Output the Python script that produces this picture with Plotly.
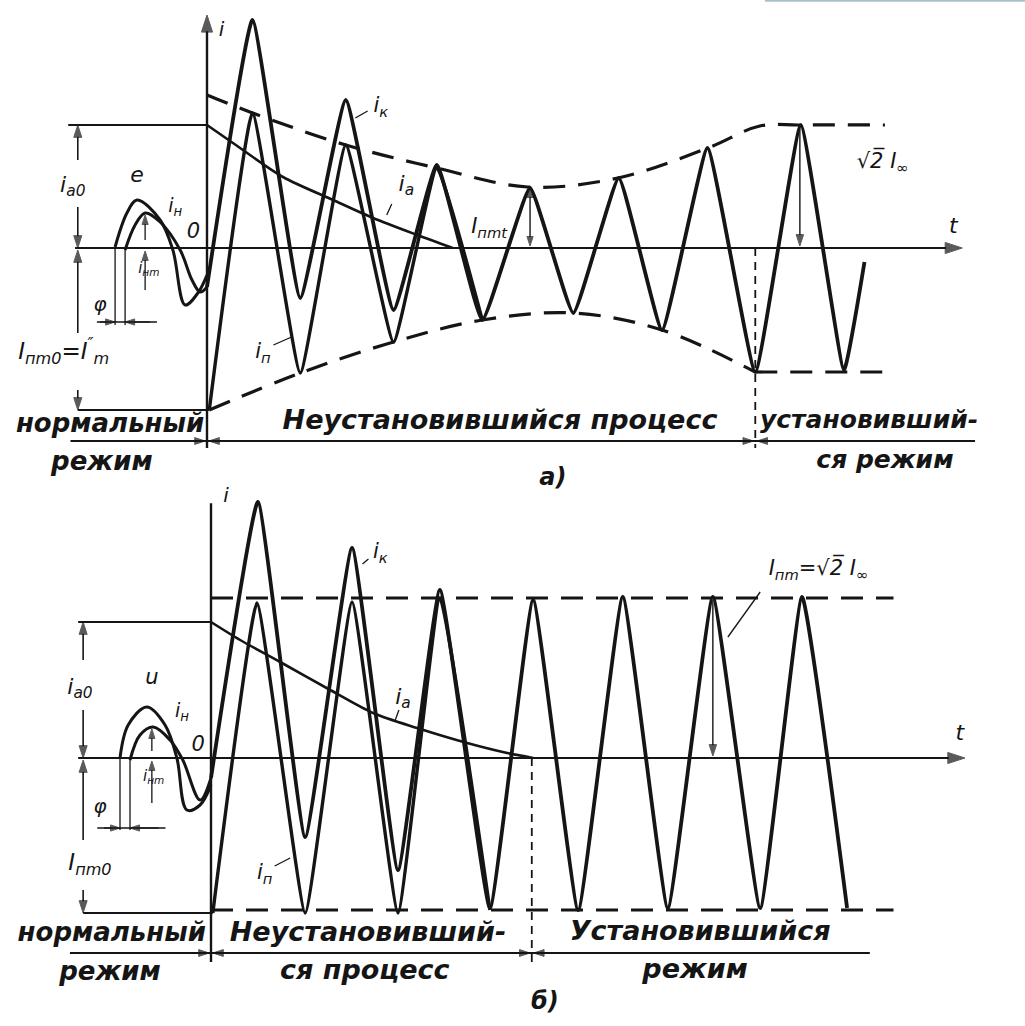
import plotly.graph_objects as go

# ===================== DATA  (t in ms at 50 Hz, i in relative units) =====================
# ---- panel a) ----
A_IK_T = [0, 10, 20.5, 30.5, 41, 50.5, 60.5, 71, 80.5, 90.5, 100, 110, 120.5, 130.5, 140, 144.5]
A_IK   = [-0.39, 2.28, -0.50, 1.48, -0.62, 0.83, -0.72, 0.60, -0.65, 0.70, -0.82, 1.00, -1.24, 1.23, -1.22, -0.14]
A_IP_T = [0.5, 10, 20.5, 30.5, 41, 50.5, 60.5]
A_IP   = [-1.62, 1.35, -1.25, 1.03, -0.94, 0.80, -0.72]
A_IA_T = [0, 5.7, 16.7, 27.7, 36.5, 46.2, 54]
A_IA   = [1.23, 1.05, 0.71, 0.48, 0.30, 0.13, 0.0]
A_UP_T = [0, 10, 30.5, 50.5, 70.5, 90.3, 110.1, 121.5, 130.3, 149]
A_UP   = [1.53, 1.35, 1.03, 0.80, 0.61, 0.70, 1.00, 1.22, 1.23, 1.23]
A_LO_T = [0.5, 20.5, 41, 60.5, 80.5, 100, 120.5, 151]
A_LO   = [-1.62, -1.25, -0.94, -0.72, -0.65, -0.82, -1.24, -1.24]
A_E_T  = [-20.2, -17.6, -15.4, -10.3, -7.5, -4.8, -2.0, 0]
A_E    = [0.01, 0.35, 0.48, 0.28, -0.02, -0.57, -0.45, -0.27]
A_IN_T = [-18, -15.8, -13.6, -10.3, -5.9, -3.3, -1.5, 0]
A_IN   = [-0.02, 0.23, 0.35, 0.26, -0.02, -0.32, -0.44, -0.39]
A_IA0, A_IPM0, A_SQ2IINF, A_T_STEADY = 1.23, -1.62, 1.23, 120.5
A_IPMT_T, A_IPMT = 71, 0.60

# ---- panel б) ----
B_IK_T = [0, 10.3, 20.7, 31, 41.1, 50.3, 61.3, 70.8, 80.7, 90.5, 100.4, 110.3, 120.7, 129.9, 139.8]
B_IK   = [-0.20, 2.56, -0.79, 2.10, -1.12, 1.68, -1.50, 1.58, -1.52, 1.61, -1.50, 1.61, -1.50, 1.61, -1.50]
B_IP_T = [0.4, 10.1, 20.7, 31, 41.1, 50.3, 61.3]
B_IP   = [-1.55, 1.55, -1.55, 1.56, -1.55, 1.60, -1.52]
B_IA_T = [0, 6.4, 15.2, 26.2, 35.6, 45.3, 56.3, 65.1, 70.8]
B_IA   = [1.36, 1.18, 0.96, 0.68, 0.45, 0.30, 0.15, 0.05, 0.0]
B_ENV_T = [0, 150]
B_UP   = [1.60, 1.60]
B_LO   = [-1.52, -1.52]
B_U_T  = [-20, -18.2, -14.1, -10.1, -7.5, -5.3, -2.4, 0]
B_U    = [0.0, 0.33, 0.51, 0.33, 0.0, -0.52, -0.47, -0.27]
B_IN_T = [-17.8, -15.6, -12.7, -9, -6.2, -2.4, 0]
B_IN   = [-0.02, 0.23, 0.31, 0.18, -0.02, -0.42, -0.20]
B_IA0, B_IPM0, B_T_STEADY = 1.36, -1.55, 70.5
B_IPM_T, B_IPM = 110.3, 1.58

# ===================== FIGURE =====================
INK = "#151515"
fig = go.Figure()


def curve(t, v, ax="", width=3.6, dash=None, smooth=0.0):
    ln = dict(color=INK, width=width)
    if dash:
        ln["dash"] = dash
    if smooth:
        ln["shape"] = "spline"
        ln["smoothing"] = smooth
    fig.add_trace(go.Scatter(x=t, y=v, xaxis="x" + ax, yaxis="y" + ax, mode="lines",
                             line=ln, hoverinfo="skip", showlegend=False))


def seg(x0, y0, x1, y1, ax="", width=1.6, dash=None):
    ln = dict(color=INK, width=width)
    if dash:
        ln["dash"] = dash
    fig.add_shape(type="line", x0=x0, y0=y0, x1=x1, y1=y1, xref="x" + ax, yref="y" + ax, line=ln)


def arrow(xt, yt, xh, yh, ax="", width=1.6, size=13):
    """line from tail to head, with an arrow marker at the head"""
    fig.add_trace(go.Scatter(
        x=[xt, xh], y=[yt, yh], xaxis="x" + ax, yaxis="y" + ax, mode="lines+markers",
        line=dict(color=INK, width=width),
        marker=dict(symbol=["circle", "arrow"], size=[0, size], angleref="previous",
                    color=INK, line=dict(width=1, color=INK)),
        hoverinfo="skip", showlegend=False, cliponaxis=False))


def label(x, y, txt, ax="", size=22, bold=False):
    fig.add_trace(go.Scatter(
        x=[x], y=[y], xaxis="x" + ax, yaxis="y" + ax, mode="text", text=[txt],
        textposition="middle center",
        textfont=dict(family="DejaVu Sans", size=size, color=INK, style="italic",
                      weight="bold" if bold else "normal"),
        hoverinfo="skip", showlegend=False, cliponaxis=False))


# ---------------- panel a) ----------------
curve(A_UP_T, A_UP, "", width=3.2, dash="22px,13px", smooth=1.0)
curve(A_LO_T[:-1], A_LO[:-1], "", width=3.2, dash="22px,13px", smooth=1.0)
curve(A_LO_T[-2:], A_LO[-2:], "", width=3.2, dash="22px,13px")
curve(A_IA_T, A_IA, "", width=2.6, smooth=0.8)
curve(A_IP_T, A_IP, "", width=3.4, smooth=0.35)
curve(A_IK_T, A_IK, "", width=3.8, smooth=0.35)
curve(A_E_T, A_E, "", width=3.0, smooth=1.0)
curve(A_IN_T, A_IN, "", width=3.0, smooth=1.0)

# axes
arrow(-29, 0, 166, 0, "", width=2.2, size=18)
arrow(0, -2.0, 0, 2.33, "", width=2.4, size=18)
# dimension lines (left)
seg(-30.5, A_IA0, 0, A_IA0, "", 1.8)
seg(-28.4, A_IPM0, 0.5, A_IPM0, "", 1.8)
arrow(-28.4, 0.88, -28.4, A_IA0, "")
arrow(-28.4, 0.41, -28.4, 0.0, "")
arrow(-28.4, -0.85, -28.4, -0.02, "")
arrow(-28.4, -1.42, -28.4, A_IPM0, "")
label(-29.5, 0.62, "i<sub>a0</sub>", "", 22)
label(-31.5, -1.05, "I<sub>пm0</sub>=I<sup>″</sup><sub>m</sub>", "", 23)
# phase shift
seg(A_E_T[0], 0, A_E_T[0], -0.77, "", 1.3)
seg(A_IN_T[0], 0, A_IN_T[0], -0.77, "", 1.3)
seg(-24.2, -0.74, -11, -0.74, "", 1.3)
arrow(-23.5, -0.74, A_E_T[0], -0.74, "", 1.3, 10)
arrow(-12.5, -0.74, A_IN_T[0], -0.74, "", 1.3, 10)
label(-23.5, -0.58, "φ", "", 20)
# I_нm dimension
arrow(-13.6, 0.08, -13.6, 0.33, "", 1.3, 10)
arrow(-13.6, -0.42, -13.6, -0.03, "", 1.3, 10)
label(-12.8, -0.21, "i<sub>нm</sub>", "", 15)
label(-15.4, 0.72, "e", "", 22)
label(-7.0, 0.41, "i<sub>н</sub>", "", 19)
label(-3.0, 0.15, "0", "", 21)
# right-side labels
label(3.2, 2.17, "i", "", 20)
label(38.2, 1.41, "i<sub>к</sub>", "", 21)
seg(32.6, 1.30, 35.3, 1.37, "", 1.3)
label(43.8, 0.63, "i<sub>a</sub>", "", 22)
seg(39.5, 0.33, 40.6, 0.44, "", 1.3)
label(12.3, -1.05, "i<sub>п</sub>", "", 21)
seg(14.6, -0.97, 18.6, -0.89, "", 1.3)
label(62.0, 0.20, "I<sub>пmt</sub>", "", 21)
arrow(A_IPMT_T, 0.30, A_IPMT_T, A_IPMT, "", 1.4, 10)
arrow(A_IPMT_T, 0.30, A_IPMT_T, 0.02, "", 1.4, 10)
arrow(130.3, A_SQ2IINF, 130.3, 0.02, "", 1.4, 12)
label(148.5, 0.85, "√2̅ I<sub>∞</sub>", "", 21)
label(164.0, 0.21, "t", "", 22)
# regime line and captions
seg(-30, -1.93, 168.8, -1.93, "", 1.8)
arrow(3.5, -1.93, 0.4, -1.93, "", 1.6, 11)
arrow(-3.5, -1.93, -0.4, -1.93, "", 1.6, 11)
seg(A_T_STEADY, 0, A_T_STEADY, -2.0, "", 1.8, dash="8px,6px")
arrow(117.0, -1.93, A_T_STEADY - 0.4, -1.93, "", 1.6, 11)
arrow(124.0, -1.93, A_T_STEADY + 0.4, -1.93, "", 1.6, 11)
label(-21.3, -1.77, "нормальный", "", 26, bold=True)
label(-23.1, -2.15, "режим", "", 26, bold=True)
label(64.4, -1.74, "Неустановившийся процесс", "", 27, bold=True)
label(145.5, -1.74, "установивший-", "", 25, bold=True)
label(149.0, -2.14, "ся режим", "", 25, bold=True)
label(76.0, -2.31, "a)", "", 24, bold=True)

# ---------------- panel б) ----------------
curve(B_ENV_T, B_UP, "2", width=3.2, dash="22px,13px")
curve(B_ENV_T, B_LO, "2", width=3.2, dash="22px,13px")
curve(B_IA_T, B_IA, "2", width=2.6, smooth=0.8)
curve(B_IP_T, B_IP, "2", width=3.4, smooth=0.35)
curve(B_IK_T, B_IK, "2", width=3.8, smooth=0.35)
curve(B_U_T, B_U, "2", width=3.0, smooth=1.0)
curve(B_IN_T, B_IN, "2", width=3.0, smooth=1.0)

arrow(-29.2, 0, 165.7, 0, "2", width=2.2, size=18)
arrow(0, -2.04, 0, 2.71, "2", width=2.4, size=18)
seg(-29.2, B_IA0, 0, B_IA0, "2", 1.8)
seg(-28.1, B_IPM0, 0.4, B_IPM0, "2", 1.8)
arrow(-28.1, 0.98, -28.1, B_IA0, "2")
arrow(-28.1, 0.48, -28.1, 0.0, "2")
arrow(-28.1, -0.82, -28.1, -0.02, "2")
arrow(-28.1, -1.32, -28.1, B_IPM0, "2")
label(-28.8, 0.70, "i<sub>a0</sub>", "2", 22)
label(-26.6, -1.06, "I<sub>пm0</sub>", "2", 23)
seg(B_U_T[0], 0, B_U_T[0], -0.72, "2", 1.3)
seg(B_IN_T[0], 0, B_IN_T[0], -0.72, "2", 1.3)
seg(-25.0, -0.70, -10.0, -0.70, "2", 1.3)
arrow(-23.5, -0.70, B_U_T[0], -0.70, "2", 1.3, 10)
arrow(-11.5, -0.70, B_IN_T[0], -0.70, "2", 1.3, 10)
label(-24.4, -0.50, "φ", "2", 20)
arrow(-13.0, 0.07, -13.0, 0.29, "2", 1.3, 10)
arrow(-13.0, -0.45, -13.0, -0.03, "2", 1.3, 10)
label(-12.6, -0.19, "i<sub>нm</sub>", "2", 15)
label(-13.0, 0.79, "u", "2", 21)
label(-6.4, 0.46, "i<sub>н</sub>", "2", 19)
label(-2.8, 0.12, "0", "2", 21)
label(3.3, 2.61, "i", "2", 20)
label(37.2, 2.05, "i<sub>к</sub>", "2", 21)
seg(33.3, 1.94, 34.6, 1.99, "2", 1.3)
label(42.2, 0.60, "i<sub>a</sub>", "2", 22)
seg(40.5, 0.38, 41.3, 0.48, "2", 1.3)
label(11.8, -1.16, "i<sub>п</sub>", "2", 21)
seg(14.0, -1.08, 17.4, -1.00, "2", 1.3)
label(133.5, 1.88, "I<sub>пm</sub>=√2̅ I<sub>∞</sub>", "2", 21)
seg(120.7, 1.66, 113.6, 1.21, "2", 1.3)
arrow(B_IPM_T, B_IPM, B_IPM_T, 0.02, "2", 1.4, 12)
label(164.6, 0.24, "t", "2", 22)
seg(-31, -1.95, 144.8, -1.95, "2", 1.8)
arrow(3.5, -1.95, 0.4, -1.95, "2", 1.6, 11)
arrow(-3.5, -1.95, -0.4, -1.95, "2", 1.6, 11)
seg(B_T_STEADY, 0, B_T_STEADY, -2.04, "2", 1.8, dash="8px,6px")
arrow(67.0, -1.95, B_T_STEADY - 0.4, -1.95, "2", 1.6, 11)
arrow(74.0, -1.95, B_T_STEADY + 0.4, -1.95, "2", 1.6, 11)
label(-21.8, -1.76, "нормальный", "2", 26, bold=True)
label(-22.2, -2.15, "режим", "2", 26, bold=True)
label(34.5, -1.76, "Неустановивший-", "2", 27, bold=True)
label(33.8, -2.14, "ся процесс", "2", 27, bold=True)
label(107.5, -1.75, "Установившийся", "2", 27, bold=True)
label(106.4, -2.13, "режим", "2", 27, bold=True)
label(73.4, -2.45, "б)", "2", 24, bold=True)

# thin teal strip at the top-right corner of the scan
fig.add_shape(type="line", xref="paper", yref="paper", x0=765 / 1025, x1=1, y0=0.9992, y1=0.9992,
              line=dict(color="#a6c3c8", width=2))

W, H = 1025, 1026
SPLIT = 1 - 490 / H
fig.update_layout(
    width=W, height=H, margin=dict(l=0, r=0, t=0, b=0),
    paper_bgcolor="white", plot_bgcolor="white", showlegend=False,
    xaxis=dict(domain=[0, 1], range=[-207 / 4.55, (W - 207) / 4.55], visible=False, anchor="y", fixedrange=True),
    yaxis=dict(domain=[SPLIT, 1], range=[-2.42, 2.48], visible=False, anchor="x", fixedrange=True),
    xaxis2=dict(domain=[0, 1], range=[-211 / 4.55, (W - 211) / 4.55], visible=False, anchor="y2", fixedrange=True),
    yaxis2=dict(domain=[0, SPLIT], range=[-2.68, 2.68], visible=False, anchor="x2", fixedrange=True),
)

fig.write_html("out.html", config={"displayModeBar": False},
               post_script="document.body.style.margin='0';document.body.style.overflow='hidden';")
